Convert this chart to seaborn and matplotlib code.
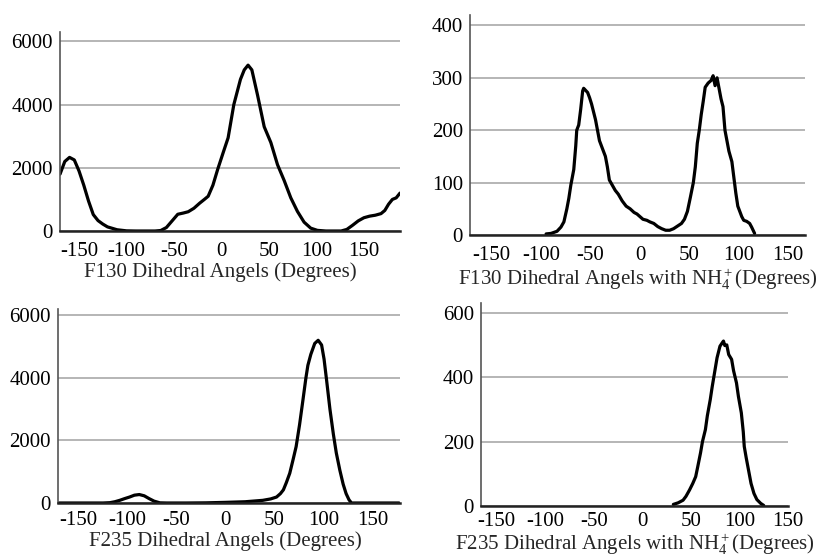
import matplotlib
matplotlib.use("Agg")
import matplotlib.pyplot as plt
import seaborn as sns

# F130, no ammonium
f130_x = [-170, -165, -160, -155, -150, -145, -140, -135, -130, -125, -120, -110,
          -100, -90, -80, -70, -64, -58, -52, -46, -40, -35, -29, -23, -18, -14,
          -9, -4, 2, 7, 13, 20, 24, 28, 32, 38, 45, 52, 59, 66, 73, 80, 87, 94,
          101, 110, 120, 126, 132, 138, 144, 150, 156, 162, 168, 172, 176, 180,
          184, 188]
f130_y = [1800, 2200, 2330, 2250, 1900, 1450, 950, 520, 330, 220, 130, 40,
          5, 0, 0, 0, 15, 110, 320, 530, 570, 610, 720, 880, 1000, 1100,
          1450, 1950, 2500, 2950, 4000, 4800, 5100, 5250, 5100, 4300, 3300, 2800,
          2100, 1600, 1050, 620, 280, 90, 20, 0, 0, 0, 50, 180, 320, 420, 470,
          500, 550, 650, 850, 1000, 1050, 1200]

# F130 with NH4+
f130n_x = [-95, -90, -84, -80, -77, -74, -72, -70, -67, -65, -64, -62, -60, -58,
           -57, -55, -53, -51, -49, -47, -45, -43, -41, -39, -37, -35, -33, -31,
           -28, -25, -22, -18, -14, -10, -6, -3, 0, 3, 7, 10, 14, 18, 22, 26, 30,
           34, 38, 42, 45, 48, 51, 54, 56, 58, 60, 62, 64, 66, 69, 72, 74, 76, 78,
           80, 82, 84, 86, 88, 90, 93, 95, 97, 99, 101, 103, 105, 108, 111, 113,
           116]
f130n_y = [2, 3, 7, 15, 25, 50, 70, 95, 125, 170, 200, 210, 240, 275,
           280, 276, 272, 262, 250, 235, 220, 200, 180, 170, 160, 150, 130, 105,
           95, 85, 78, 65, 55, 50, 43, 40, 35, 30, 28, 25, 22, 16, 12, 9, 9,
           12, 17, 22, 30, 45, 72, 100, 130, 175, 200, 230, 255, 282, 290, 295,
           304, 285, 300, 280, 260, 245, 200, 180, 160, 140, 110, 80, 55, 45, 35,
           28, 26, 22, 15, 3]

# F235, no ammonium
f235_x = [-171, -140, -125, -118, -113, -108, -103, -98, -93, -88, -83, -78, -73,
          -67, -60, -40, -20, 0, 20, 38, 46, 52, 56, 59, 62, 65.5, 69, 72, 75.5,
          79, 82, 84, 87, 91, 94.5, 98, 100.5, 103, 106.5, 110, 113, 116.6, 120,
          123, 126, 128.5, 150, 177]
f235_y = [0, 0, 0, 10, 40, 85, 140, 190, 250, 270, 230, 140, 60,
          5, 0, 0, 5, 20, 40, 85, 130, 190, 300, 420, 650, 950, 1400, 1800, 2500,
          3300, 4000, 4400, 4750, 5100, 5200, 5050, 4600, 3950, 3000, 2200, 1600,
          1050, 600, 300, 100, 0, 0, 0]

# F235 with NH4+
f235n_x = [32, 37, 42, 45, 48.7, 52, 55, 57, 60, 62, 65, 67, 70, 72, 75, 77, 80,
           82, 83.6, 85, 87, 89, 92, 94, 97, 99, 102, 104, 105, 107, 110, 112,
           115, 118, 122, 125]
f235n_y = [5, 10, 18, 30, 50, 70, 91, 120, 165, 200, 237, 280, 330, 370, 424,
           460, 496, 505, 512, 498, 500, 470, 455, 420, 382, 340, 289, 230, 185,
           150, 102, 70, 39, 20, 8, 2]

x_ticks = [-150, -100, -50, 0, 50, 100, 150]

sns.set_style("white")
plt.rcParams["font.family"] = ["Liberation Serif", "DejaVu Serif"]
plt.rcParams["mathtext.fontset"] = "custom"
plt.rcParams["mathtext.rm"] = "Liberation Serif"
plt.rcParams["mathtext.it"] = "Liberation Serif:italic"
plt.rcParams["axes.unicode_minus"] = False

fig = plt.figure(figsize=(8.19, 5.6), dpi=100)

# rect, x, y, xlim, ylim, yticks, label, tick pad, label x
panels = [
    ([0.0733, 0.5875, 0.4151, 0.3554], f130_x, f130_y, (-170, 188), (0, 6300),
     [0, 2000, 4000, 6000], "F130 Dihedral Angels (Degrees)", 8, 0.47),
    ([0.5739, 0.5804, 0.4090, 0.3929], f130n_x, f130n_y, (-172, 167), (0, 420),
     [0, 100, 200, 300, 400], "F130 Dihedral Angels with NH$_4^+$(Degrees)", 8, 0.5),
    ([0.0708, 0.1018, 0.4176, 0.3464], f235_x, f235_y, (-171, 178), (0, 6200),
     [0, 2000, 4000, 6000], "F235 Dihedral Angels (Degrees)", 6, 0.49),
    ([0.5873, 0.0964, 0.3748, 0.3625], f235n_x, f235n_y, (-166, 140), (0, 630),
     [0, 200, 400, 600], "F235 Dihedral Angels with NH$_4^+$(Degrees)", 4, 0.5),
]

for rect, xs, ys, xlim, ylim, yticks, label, pad, lx in panels:
    ax = fig.add_axes(rect)
    sns.lineplot(x=xs, y=ys, ax=ax, color="black", linewidth=2.3,
                 estimator=None, sort=False)
    ax.set_xlim(*xlim)
    ax.set_ylim(*ylim)
    ax.set_xticks(x_ticks)
    ax.set_yticks(yticks)
    ax.yaxis.grid(True, color="#b0b0b0", linewidth=1.3)
    ax.xaxis.grid(False)
    ax.set_axisbelow(True)
    for side in ["top", "right"]:
        ax.spines[side].set_visible(False)
    ax.spines["left"].set_color("#555555")
    ax.spines["left"].set_linewidth(1.2)
    ax.spines["bottom"].set_color("#222222")
    ax.spines["bottom"].set_linewidth(1.8)
    ax.tick_params(axis="both", length=0, labelsize=15, colors="black")
    ax.tick_params(axis="x", pad=pad)
    ax.tick_params(axis="y", pad=5)
    ax.set_xlabel(label, fontsize=15, labelpad=1)
    ax.xaxis.label.set_x(lx)
    ax.set_ylabel("")

fig.savefig("out.png", dpi=100)
